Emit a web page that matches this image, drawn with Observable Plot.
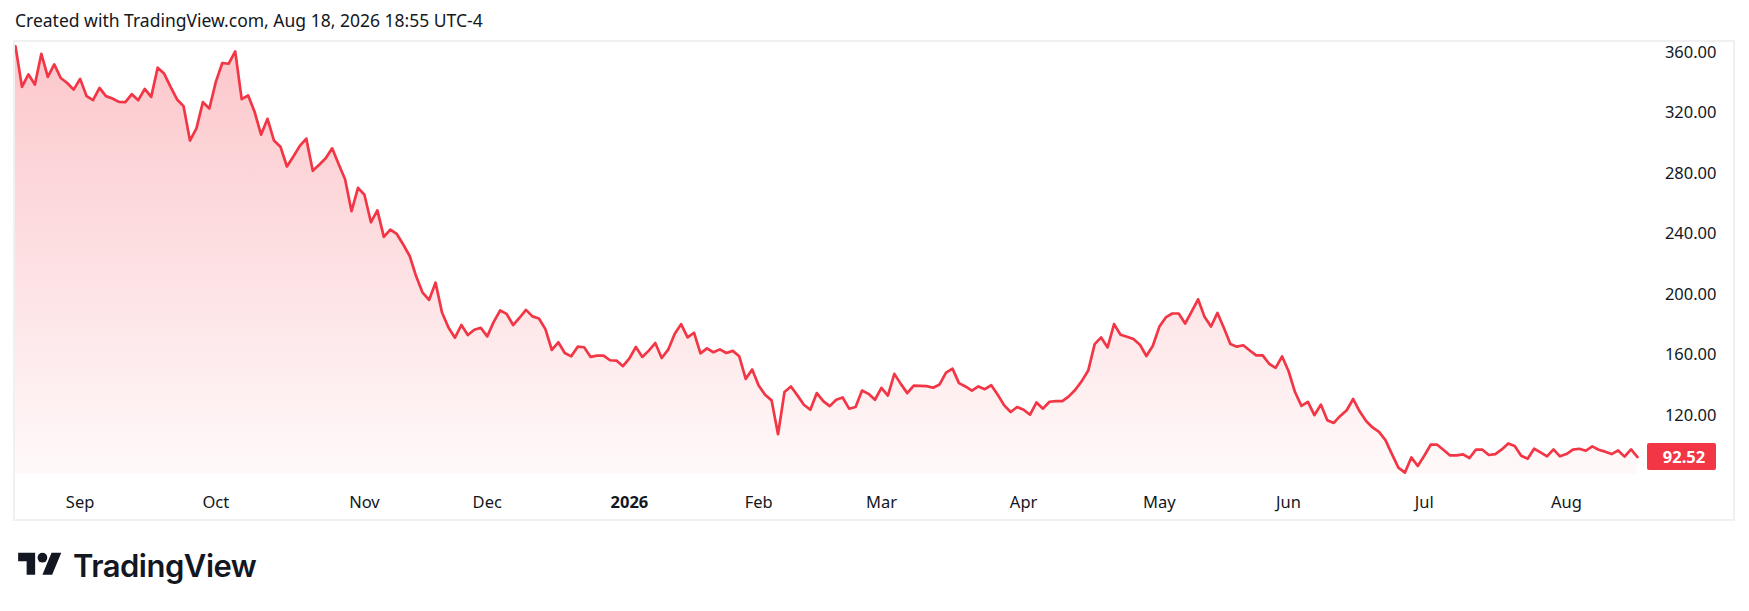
<!DOCTYPE html>
<html>
<head>
<meta charset="utf-8">
<script src="https://cdn.jsdelivr.net/npm/d3@7"></script>
<script src="https://cdn.jsdelivr.net/npm/@observablehq/plot@0.6"></script>
<style>
html, body { margin: 0; padding: 0; background: #ffffff; }
#wrap { position: relative; width: 1749px; height: 611px; overflow: hidden; font-family: "Noto Sans", sans-serif; color: #131722; }
#title { position: absolute; left: 15px; top: 9px; font-size: 17.5px; line-height: 22px; white-space: nowrap; }
#chart { position: absolute; left: 0; top: 0; }
#frame { position: absolute; left: 13px; top: 40px; width: 1718px; height: 477px; border: 2px solid #f0f0f0; pointer-events: none; }
#logo { position: absolute; left: 18px; top: 548px; height: 34px; display: flex; align-items: center; }
#logo span { font-family: Inter, "Noto Sans", sans-serif; font-weight: 600; font-size: 31px; letter-spacing: -0.5px; margin-left: 11px; color: #131722; }
</style>
</head>
<body>
<div id="wrap">
  <div id="title">Created with TradingView.com, Aug 18, 2026 18:55 UTC-4</div>
  <div id="chart"></div>
  <div id="frame"></div>
  <div id="logo">
    <svg width="44" height="34" viewBox="0 0 36 28"><path fill="#131722" d="M14 22H7V11H0V4h14v18zM28 22h-8l7.5-18h8L28 22z"/><circle fill="#131722" cx="20" cy="8" r="4"/></svg>
    <span>TradingView</span>
  </div>
</div>
<script>
// Daily closes, Aug 18 2025 -> Aug 18 2026 (one value per trading day)
const prices = [
  364, 337.2, 345.5, 338.7, 359.1, 343.8, 352.1, 343.1, 339.8, 335.4,
  342.5, 331.1, 328.4, 336.5, 331.1, 329.5, 327.3, 327.1, 332.4, 328.4,
  335.9, 330.6, 349.9, 346, 337.2, 328.9, 324.5, 301.7, 309.8, 327.1,
  322.9, 340.5, 353, 352.5, 360.7, 329.1, 331.5, 320.7, 305.6, 316.1,
  301.7, 297.7, 284.6, 291.2, 298.2, 303, 281.7, 285.7, 290, 296.6,
  286.3, 276.2, 255, 270.5, 265.9, 247.7, 255.6, 238.1, 242.9, 240,
  233, 225.4, 212,
  201.2, 196.4, 207.8, 188.1, 178.2, 171.4, 179.8, 173.2, 176.7, 178,
  172.3, 181.9, 189.4, 187.2, 179.8, 184.6, 189.8, 185.5, 184.1, 177.1,
  163.3, 168.4, 161.3, 159.1, 165.5, 165.1, 158.7, 159.6, 159.6, 156.5,
  156.3, 152.6, 157.8, 165.3, 158.7, 162.9, 167.9, 158, 163.5, 173.8,
  180.4, 171.6, 174.7, 161.1, 164.4, 161.8, 163.7, 161.3, 162.7, 159.1,
  144.2, 150.4, 139.8, 133.7, 130, 107.6, 135.5, 139.2, 133.3, 127.1,
  123.8, 134.8, 129.5, 126.2,
  130.4, 131.9, 124.5, 125.6, 136.5, 134.3, 130.4, 138.3, 133.2, 147.5,
  140.9, 134.8, 139.8, 139.6, 139.4, 138.3, 140.5, 148.4, 151, 141.4,
  139.2, 136.5, 139.2, 137.4, 140, 133.7, 126.7, 122.3, 125.6, 123.8,
  120.5, 128.6, 124.5, 129.1, 129.5, 129.5, 132.6, 137, 142.7, 149.7,
  167.2, 171.6, 165, 180.4, 173.4, 172.1, 170.5, 166.8, 159.3, 166.1,
  178.6, 184.8, 187.4, 187.4, 180.8, 188.7, 196.8, 185.2, 178.8, 187.8,
  177.8, 167.2, 165.5, 166.4,
  163, 159.7, 159.7, 154.2, 151.5, 159, 149.4, 135.5, 126.3, 129,
  120.2, 127.2, 116.9, 115.1, 119.7, 123.5, 130.9, 122.8, 116.4, 112.1,
  109.2, 103.7, 94.5, 85.5, 82.2, 92.3, 86.6, 93.4, 100.7, 100.7,
  97.2, 93.6, 93.6, 94.3, 91.9, 97.4, 97.4, 93.9, 94.5, 97.6,
  101.5, 99.8, 93.4, 91.4, 98, 95.6, 93, 97.6, 93, 94.5,
  97.4, 98, 96.7, 99.6, 97.4, 96.1, 94.5, 96.9, 92.8, 97.6,
  92.52
];

// Month labels on the time axis and the trading-day index where each month starts
const monthLabels = ["Sep", "Oct", "Nov", "Dec", "2026", "Feb", "Mar", "Apr", "May", "Jun", "Jul", "Aug"];
const monthStarts = [10, 31, 54, 73, 95, 115, 134, 156, 177, 197, 218, 240];
const yearLabels = ["2026"];

// Price axis ticks
const priceTicks = [120, 160, 200, 240, 280, 320, 360];
const priceDomain = [81, 367.2];

const series = prices.map((v, i) => ({i, v}));
const labelAt = new Map(monthStarts.map((s, k) => [s, monthLabels[k]]));
const regularTicks = monthStarts.filter((s) => !yearLabels.includes(labelAt.get(s)));
const yearTicks = monthStarts.filter((s) => yearLabels.includes(labelAt.get(s)));

const RED = "#F23645";
const NS = "http://www.w3.org/2000/svg";

const gradientDefs = () => {
  const defs = document.createElementNS(NS, "defs");
  const g = document.createElementNS(NS, "linearGradient");
  g.setAttribute("id", "tvgrad");
  g.setAttribute("x1", "0"); g.setAttribute("y1", "0");
  g.setAttribute("x2", "0"); g.setAttribute("y2", "1");
  [["0%", 0.28], ["100%", 0.03]].forEach(([o, a]) => {
    const s = document.createElementNS(NS, "stop");
    s.setAttribute("offset", o);
    s.setAttribute("stop-color", RED);
    s.setAttribute("stop-opacity", a);
    g.appendChild(s);
  });
  defs.appendChild(g);
  return defs;
};

const priceTag = (index, scales) => {
  const last = prices[prices.length - 1];
  const y = scales.y(last);
  const x = scales.x(prices.length - 1) + 10;
  const g = document.createElementNS(NS, "g");
  const r = document.createElementNS(NS, "rect");
  r.setAttribute("x", x); r.setAttribute("y", y - 13.5);
  r.setAttribute("width", 69); r.setAttribute("height", 27);
  r.setAttribute("rx", 2); r.setAttribute("fill", RED);
  const t = document.createElementNS(NS, "text");
  t.setAttribute("x", x + 37); t.setAttribute("y", y);
  t.setAttribute("text-anchor", "middle");
  t.setAttribute("dy", "0.36em");
  t.setAttribute("fill", "#ffffff");
  t.setAttribute("font-weight", "bold");
  t.setAttribute("font-size", "16.5");
  t.textContent = last.toFixed(2);
  g.appendChild(r); g.appendChild(t);
  return g;
};

const chart = Plot.plot({
  width: 1749,
  height: 611,
  marginLeft: 15,
  marginRight: 112,
  marginTop: 41,
  marginBottom: 137,
  style: {background: "transparent", fontFamily: "'Noto Sans', sans-serif", fontSize: "16px", color: "#131722"},
  x: {domain: [0, prices.length - 1], label: null},
  y: {domain: priceDomain, label: null},
  marks: [
    gradientDefs,
    Plot.areaY(series, {x: "i", y1: priceDomain[0], y2: "v", fill: "url(#tvgrad)"}),
    Plot.lineY(series, {x: "i", y: "v", stroke: RED, strokeWidth: 2.7, strokeLinejoin: "round"}),
    Plot.axisY({anchor: "right", ticks: priceTicks, tickFormat: (d) => d.toFixed(2), tickSize: 0, tickPadding: 79, textAnchor: "end", fontSize: 16.5, label: null}),
    Plot.axisX({anchor: "bottom", ticks: regularTicks, tickFormat: (d) => labelAt.get(d), tickSize: 0, tickPadding: 22, fontSize: 16.5, label: null}),
    Plot.axisX({anchor: "bottom", ticks: yearTicks, tickFormat: (d) => labelAt.get(d), tickSize: 0, tickPadding: 22, fontSize: 16.5, fontWeight: "bold", label: null}),
    priceTag
  ]
});
document.getElementById("chart").appendChild(chart);
</script>
</body>
</html>
